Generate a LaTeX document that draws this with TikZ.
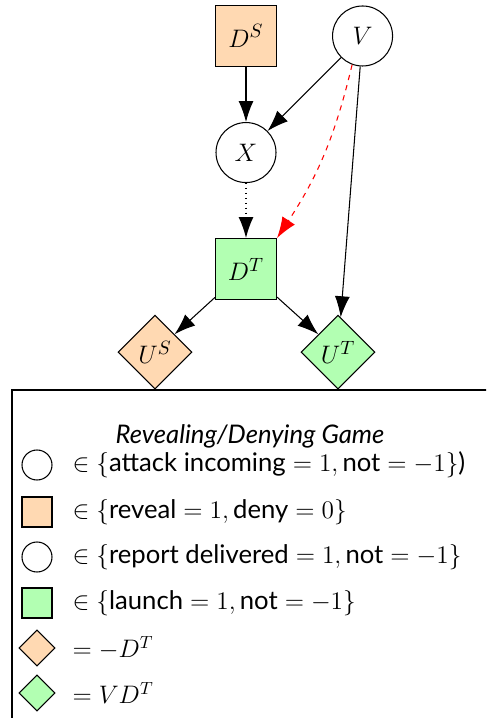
\documentclass[tikz,border=0pt]{standalone}
\usepackage{amsmath}
\usepackage{fontspec}
\setmainfont{Lato}
\usepackage{tikz}
\usetikzlibrary{positioning,shapes,arrows.meta}

\begin{document}
\begin{tikzpicture}[font=\fontsize{14.6}{17}\selectfont,
		>={Latex[length=4.2mm,width=3mm]}, line width=0.6pt,
		chance/.style={circle, draw, minimum size=1.2cm, inner sep=0pt, font=\fontsize{15}{18}\selectfont},
		decision/.style={rectangle, draw, minimum size=1.22cm, inner sep=0pt, font=\fontsize{15}{18}\selectfont},
		utility/.style={diamond, draw, minimum size=1.48cm, inner sep=0pt, font=\fontsize{15}{18}\selectfont},
		lchance/.style={circle, draw, minimum size=0.6cm, inner sep=0pt},
		ldecision/.style={rectangle, draw, minimum size=0.6cm, inner sep=0pt},
		lutility/.style={diamond, draw, minimum size=0.72cm, inner sep=0pt},
		ltext/.style={anchor=west, inner sep=0pt},
		node distance=1.1cm]
		\useasboundingbox (0,0) rectangle (9.72,-14.36);
		\clip (0,0) rectangle (9.72,-14.36);
		% the game
		\node[decision, fill=orange!30] (DS) at (4.92,-0.72) {$D^S$};
		\node[chance, right=of DS] (V) {$V$};
		\node[chance, below=of DS] (X) {$X$};
		\node[decision, fill=green!30, below=of X] (DT) {$D^T$};
		\node[utility, fill=orange!30] (US) at ([shift={(-1.82,-1.66)}]DT) {$U^S$};
		\node[utility, fill=green!30] (UT) at ([shift={(1.84,-1.66)}]DT) {$U^T$};
		\draw[->] (DS) -- (X);
		\draw[->] (V) -- (X);
		\draw[->, dotted, line width=0.8pt] (X) -- (DT);
		\draw[->, red, dashed] (V.250) to[bend left=10] (DT.north east);
		\draw[->] (V) -- (UT);
		\draw[->] (DT) -- (US);
		\draw[->] (DT) -- (UT);
		% legend
		\draw (0.24,-7.8) rectangle (10.5,-15);
		\node (title) at (5.0,-8.72) {\textit{Revealing/Denying Game}};
		\node[lchance] (l1) at (0.74,-9.3) {};
		\node[ltext] (t1) at (1.44,-9.3) {$\in\{\text{attack incoming}=1,\text{not}=-1\}$)};
		\node[ldecision, fill=orange!30] (l2) at (0.74,-10.24) {};
		\node[ltext] (t2) at (1.44,-10.24) {$\in\{\text{reveal}=1,\text{deny}=0\}$};
		\node[lchance] (l3) at (0.74,-11.14) {};
		\node[ltext] (t3) at (1.44,-11.14) {$\in\{\text{report delivered}=1,\text{not}=-1\}$};
		\node[ldecision, fill=green!30] (l4) at (0.74,-12.06) {};
		\node[ltext] (t4) at (1.44,-12.06) {$\in\{\text{launch}=1,\text{not}=-1\}$};
		\node[lutility, fill=orange!30] (l5) at (0.74,-12.96) {};
		\node[ltext] (t5) at (1.44,-12.96) {$=-D^T$};
		\node[lutility, fill=green!30] (l6) at (0.74,-13.86) {};
		\node[ltext] (t6) at (1.44,-13.86) {$=V D^T$};
\end{tikzpicture}
\end{document}
